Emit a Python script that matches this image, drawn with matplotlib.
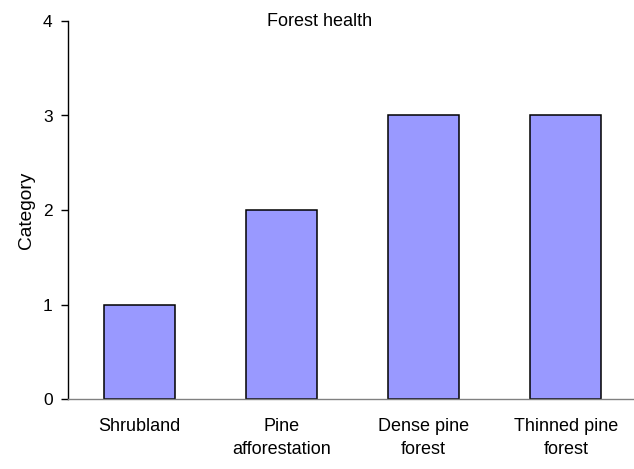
import numpy as np
import matplotlib.pyplot as plt

plt.rcParams['font.family'] = ['Liberation Sans', 'DejaVu Sans']

categories = ['Shrubland', 'Pine\nafforestation', 'Dense pine\nforest', 'Thinned pine\nforest']
values = [1, 2, 3, 3]
yticks = [0, 1, 2, 3, 4]

fig = plt.figure(figsize=(6.34, 4.69), dpi=100)
ax = fig.add_axes([68 / 634, 70 / 469, 569 / 634, 378 / 469])

x = np.arange(len(categories))
ax.bar(x, values, width=0.5, color='#9999FF', edgecolor='black', linewidth=1.1)

ax.set_xlim(-0.5, len(categories) - 0.5)
ax.set_ylim(0, 4)
ax.set_yticks(yticks)
ax.set_xticks(x)
ax.set_xticklabels(categories, fontsize=13, linespacing=1.45)
ax.tick_params(axis='x', length=0, pad=14)
ax.tick_params(axis='y', length=5, width=1, direction='out', labelsize=12.5, pad=6)

ax.spines['top'].set_visible(False)
ax.spines['right'].set_visible(False)
ax.spines['left'].set_linewidth(1)
ax.spines['bottom'].set_linewidth(1)
ax.spines['bottom'].set_color('#808080')

ax.set_ylabel('Category', fontsize=13.8, labelpad=6)
fig.text(320 / 634, 1 - 22 / 469, 'Forest health', ha='center', va='center', fontsize=13)

fig.savefig('out.png', dpi=100)
